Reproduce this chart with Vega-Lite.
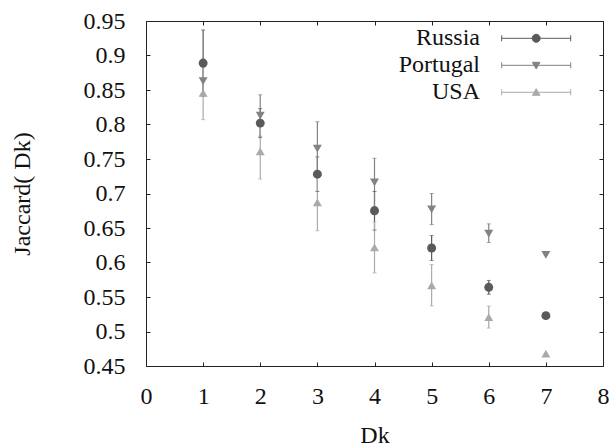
{
  "$schema": "https://vega.github.io/schema/vega-lite/v6.json",
  "width": 457,
  "height": 345,
  "autosize": {"type": "none"},
  "padding": {"left": 146, "top": 21, "right": 7, "bottom": 81},
  "background": "white",
  "config": {
    "view": {"stroke": "#222", "strokeWidth": 1},
    "font": "Liberation Serif, Times New Roman, serif",
    "axis": {
      "labelFont": "Liberation Serif, Times New Roman, serif",
      "titleFont": "Liberation Serif, Times New Roman, serif",
      "labelFontSize": 24,
      "titleFontSize": 24,
      "titleFontWeight": "normal",
      "labelColor": "#111",
      "titleColor": "#111",
      "grid": false,
      "domain": false,
      "tickColor": "#222",
      "tickSize": -4,
      "tickWidth": 1,
      "labelFlush": false,
      "labelOverlap": false
    }
  },
  "data": {
    "values": [
      {"country": "Russia", "dk": 1, "value": 0.889, "lo": 0.841, "hi": 0.937},
      {"country": "Russia", "dk": 2, "value": 0.802, "lo": 0.781, "hi": 0.823},
      {"country": "Russia", "dk": 3, "value": 0.728, "lo": 0.703, "hi": 0.753},
      {"country": "Russia", "dk": 4, "value": 0.675, "lo": 0.647, "hi": 0.703},
      {"country": "Russia", "dk": 5, "value": 0.621, "lo": 0.603, "hi": 0.639},
      {"country": "Russia", "dk": 6, "value": 0.564, "lo": 0.554, "hi": 0.574},
      {"country": "Russia", "dk": 7, "value": 0.523, "lo": 0.523, "hi": 0.523},
      {"country": "Portugal", "dk": 1, "value": 0.863, "lo": 0.843, "hi": 0.883},
      {"country": "Portugal", "dk": 2, "value": 0.813, "lo": 0.783, "hi": 0.843},
      {"country": "Portugal", "dk": 3, "value": 0.765, "lo": 0.726, "hi": 0.804},
      {"country": "Portugal", "dk": 4, "value": 0.716, "lo": 0.681, "hi": 0.751},
      {"country": "Portugal", "dk": 5, "value": 0.677, "lo": 0.655, "hi": 0.700},
      {"country": "Portugal", "dk": 6, "value": 0.642, "lo": 0.629, "hi": 0.656},
      {"country": "Portugal", "dk": 7, "value": 0.611, "lo": 0.611, "hi": 0.611},
      {"country": "USA", "dk": 1, "value": 0.846, "lo": 0.807, "hi": 0.885},
      {"country": "USA", "dk": 2, "value": 0.761, "lo": 0.721, "hi": 0.801},
      {"country": "USA", "dk": 3, "value": 0.687, "lo": 0.646, "hi": 0.728},
      {"country": "USA", "dk": 4, "value": 0.622, "lo": 0.585, "hi": 0.659},
      {"country": "USA", "dk": 5, "value": 0.567, "lo": 0.537, "hi": 0.597},
      {"country": "USA", "dk": 6, "value": 0.521, "lo": 0.505, "hi": 0.537},
      {"country": "USA", "dk": 7, "value": 0.468, "lo": 0.468, "hi": 0.468}
    ]
  },
  "encoding": {
    "color": {
      "field": "country",
      "type": "nominal",
      "scale": {"domain": ["Russia", "Portugal", "USA"], "range": ["#5a5a5a", "#828282", "#aaaaaa"]},
      "legend": {
        "orient": "none",
        "legendX": 378.2,
        "legendY": 5.3,
        "title": null,
        "padding": 0,
        "labelFont": "Liberation Serif, Times New Roman, serif",
        "labelFontSize": 24,
        "labelColor": "#111",
        "labelAlign": "right",
        "labelOffset": -68.2,
        "labelLimit": 300,
        "symbolSize": 400,
        "symbolStrokeWidth": 1,
        "symbolOffset": 0,
        "rowPadding": 3,
        "encode": {
          "symbols": {
            "update": {
              "shape": {"signal": "datum.value === 'Russia' ? 'M-3.45,0L3.45,0M-3.45,-0.3L-3.45,0.3M3.45,-0.3L3.45,0.3M-0.4,0A0.4,0.4 0 1,0 0.4,0A0.4,0.4 0 1,0 -0.4,0Z' : datum.value === 'Portugal' ? 'M-3.45,0L3.45,0M-3.45,-0.3L-3.45,0.3M3.45,-0.3L3.45,0.3M-0.38,-0.3L0.38,-0.3L0,0.36Z' : 'M-3.45,0L3.45,0M-3.45,-0.3L-3.45,0.3M3.45,-0.3L3.45,0.3M-0.38,0.3L0.38,0.3L0,-0.36Z'"},
              "fill": {"signal": "scale('color', datum.value)"},
              "stroke": {"signal": "scale('color', datum.value)"},
              "strokeWidth": {"value": 1},
              "size": {"value": 400},
              "opacity": {"value": 1}
            }
          }
        }
      }
    }
  },
  "layer": [
    {
      "mark": {"type": "rule", "strokeWidth": 1.2},
      "encoding": {
        "x": {
          "field": "dk", "type": "quantitative",
          "scale": {"domain": [0, 8], "nice": false, "zero": false},
          "axis": {"orient": "bottom", "title": "Dk", "values": [0, 1, 2, 3, 4, 5, 6, 7, 8], "format": "d", "labelPadding": 22, "titlePadding": 15}
        },
        "y": {
          "field": "lo", "type": "quantitative",
          "scale": {"domain": [0.45, 0.95], "nice": false, "zero": false},
          "axis": {"orient": "left", "title": "Jaccard( Dk)", "values": [0.45, 0.5, 0.55, 0.6, 0.65, 0.7, 0.75, 0.8, 0.85, 0.9, 0.95], "format": ".2~f", "labelPadding": 25, "titlePadding": 49}
        },
        "y2": {"field": "hi"}
      }
    },
    {
      "mark": {"type": "tick", "orient": "horizontal", "size": 4, "thickness": 1},
      "encoding": {
        "x": {"field": "dk", "type": "quantitative", "axis": null},
        "y": {"field": "lo", "type": "quantitative", "axis": null}
      }
    },
    {
      "mark": {"type": "tick", "orient": "horizontal", "size": 4, "thickness": 1},
      "encoding": {
        "x": {"field": "dk", "type": "quantitative", "axis": null},
        "y": {"field": "hi", "type": "quantitative", "axis": null}
      }
    },
    {
      "transform": [{"filter": "datum.country === 'Russia'"}],
      "mark": {"type": "point", "shape": "circle", "filled": true, "opacity": 1, "size": 80},
      "encoding": {
        "x": {
          "field": "dk", "type": "quantitative",
          "axis": {"orient": "top", "title": null, "labels": false, "values": [0, 1, 2, 3, 4, 5, 6, 7, 8]}
        },
        "y": {
          "field": "value", "type": "quantitative",
          "axis": {"orient": "right", "title": null, "labels": false, "values": [0.45, 0.5, 0.55, 0.6, 0.65, 0.7, 0.75, 0.8, 0.85, 0.9, 0.95]}
        }
      }
    },
    {
      "transform": [{"filter": "datum.country === 'Portugal'"}],
      "mark": {"type": "point", "shape": "triangle-down", "filled": true, "opacity": 1, "size": 80},
      "encoding": {
        "x": {"field": "dk", "type": "quantitative", "axis": null},
        "y": {"field": "value", "type": "quantitative", "axis": null}
      }
    },
    {
      "transform": [{"filter": "datum.country === 'USA'"}],
      "mark": {"type": "point", "shape": "triangle-up", "filled": true, "opacity": 1, "size": 80},
      "encoding": {
        "x": {"field": "dk", "type": "quantitative", "axis": null},
        "y": {"field": "value", "type": "quantitative", "axis": null}
      }
    }
  ],
  "resolve": {"axis": {"x": "independent", "y": "independent"}}
}
